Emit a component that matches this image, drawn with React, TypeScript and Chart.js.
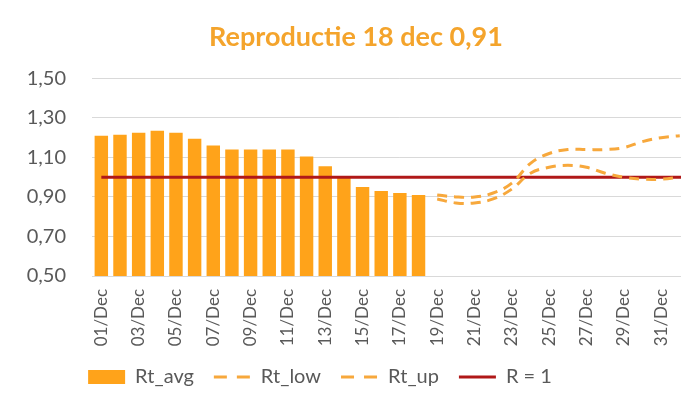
import { useEffect, useRef } from "react";
import { Chart, registerables } from "chart.js";

Chart.register(...registerables);

const categories = [
  "01/Dec", "02/Dec", "03/Dec", "04/Dec", "05/Dec", "06/Dec", "07/Dec", "08/Dec",
  "09/Dec", "10/Dec", "11/Dec", "12/Dec", "13/Dec", "14/Dec", "15/Dec", "16/Dec",
  "17/Dec", "18/Dec", "19/Dec", "20/Dec", "21/Dec", "22/Dec", "23/Dec", "24/Dec",
  "25/Dec", "26/Dec", "27/Dec", "28/Dec", "29/Dec", "30/Dec", "31/Dec", "01/Jan", "02/Jan",
];

// 01/Dec .. 18/Dec
const rtAvg = [1.21, 1.215, 1.225, 1.235, 1.225, 1.195, 1.16, 1.14, 1.14, 1.14, 1.14, 1.105, 1.055, 1.0, 0.95, 0.93, 0.92, 0.91];
// 19/Dec .. 01/Jan
const rtLow = [0.89, 0.87, 0.87, 0.89, 0.94, 1.02, 1.05, 1.06, 1.05, 1.02, 1.0, 0.99, 0.99, 1.0];
const rtUp = [0.91, 0.9, 0.9, 0.92, 0.97, 1.07, 1.12, 1.14, 1.14, 1.14, 1.15, 1.18, 1.2, 1.21];
const rOne = 1;
const yTicks = [0.5, 0.7, 0.9, 1.1, 1.3, 1.5];

const titleText = "Reproductie 18 dec 0,91";
const seriesNames = ["Rt_avg", "Rt_low", "Rt_up", "R = 1"];

const ORANGE = "#FFA31A";
const LINE_ORANGE = "#F7A83C";
const TITLE_ORANGE = "#F4A42C";
const RED = "#B01818";
const GREY = "#595959";
const FONT = "Lato, 'Open Sans', sans-serif";

const padTo = (arr: (number | null)[], start: number) => {
  const out: (number | null)[] = categories.map(() => null);
  arr.forEach((v, i) => {
    if (start + i < out.length) out[start + i] = v;
  });
  return out;
};

const LEGEND_SHIFT = -36;

export default function App() {
  const ref = useRef<HTMLCanvasElement | null>(null);

  useEffect(() => {
    if (!ref.current) return;
    const legendShift = {
      id: "legendShift",
      afterLayout(chart: any) {
        const l = chart.legend;
        if (l) {
          l.left += LEGEND_SHIFT;
          l.right += LEGEND_SHIFT;
        }
      },
    };
    const chart = new Chart(ref.current, {
      data: {
        labels: categories,
        datasets: [
          {
            type: "bar",
            label: seriesNames[0],
            data: padTo(rtAvg, 0),
            backgroundColor: ORANGE,
            borderWidth: 0,
            categoryPercentage: 1,
            barPercentage: 0.72,
            order: 10,
          },
          {
            type: "line",
            label: seriesNames[1],
            data: padTo(rtLow, 18),
            borderColor: LINE_ORANGE,
            borderWidth: 3,
            borderDash: [10, 7],
            tension: 0.4,
            pointRadius: 0,
            fill: false,
            order: 1,
          },
          {
            type: "line",
            label: seriesNames[2],
            data: padTo(rtUp, 18),
            borderColor: LINE_ORANGE,
            borderWidth: 3,
            borderDash: [10, 7],
            tension: 0.4,
            pointRadius: 0,
            fill: false,
            order: 2,
          },
          {
            type: "line",
            label: seriesNames[3],
            data: categories.map(() => rOne),
            borderColor: RED,
            borderWidth: 3,
            pointRadius: 0,
            fill: false,
            order: 3,
          },
        ],
      } as any,
      options: {
        animation: false,
        responsive: true,
        maintainAspectRatio: false,
        layout: { padding: { left: 0, right: 12, top: 0, bottom: 17 } },
        plugins: {
          title: {
            display: true,
            text: titleText,
            color: TITLE_ORANGE,
            font: { family: FONT, size: 27, weight: "bold" },
            padding: { top: 21, bottom: 25 },
          },
          legend: {
            position: "bottom",
            labels: {
              color: GREY,
              font: { family: FONT, size: 20 },
              usePointStyle: true,
              pointStyleWidth: 37,
              boxWidth: 37,
              boxHeight: 14,
              padding: 20,
              generateLabels: () => [
                { text: seriesNames[0], fillStyle: ORANGE, strokeStyle: ORANGE, lineWidth: 0, pointStyle: "rect", datasetIndex: 0, hidden: false, fontColor: GREY },
                { text: seriesNames[1], fillStyle: "rgba(0,0,0,0)", strokeStyle: LINE_ORANGE, lineWidth: 3, lineDash: [13, 10], pointStyle: "line", datasetIndex: 1, hidden: false, fontColor: GREY },
                { text: seriesNames[2], fillStyle: "rgba(0,0,0,0)", strokeStyle: LINE_ORANGE, lineWidth: 3, lineDash: [13, 10], pointStyle: "line", datasetIndex: 2, hidden: false, fontColor: GREY },
                { text: seriesNames[3], fillStyle: "rgba(0,0,0,0)", strokeStyle: RED, lineWidth: 3, pointStyle: "line", datasetIndex: 3, hidden: false, fontColor: GREY },
              ] as any,
            },
          },
          tooltip: { enabled: false },
        },
        scales: {
          x: {
            grid: { display: false },
            border: { display: false },
            afterFit: (s: any) => {
              s.height = 71;
            },
            ticks: {
              autoSkip: false,
              minRotation: 90,
              maxRotation: 90,
              padding: 5,
              color: GREY,
              font: { family: FONT, size: 17 },
              callback: (_v: any, i: number) => (i % 2 === 0 ? categories[i] : ""),
            },
          },
          y: {
            min: 0.5,
            max: 1.5,
            afterBuildTicks: (s: any) => {
              s.ticks = yTicks.map((v) => ({ value: v }));
            },
            afterFit: (s: any) => {
              s.width = 92;
            },
            grid: { color: "#D9D9D9", lineWidth: 1, drawTicks: false },
            border: { display: false },
            ticks: {
              padding: 26,
              color: GREY,
              font: { family: FONT, size: 20 },
              callback: (v: any) => Number(v).toFixed(2).replace(".", ","),
            },
          },
        },
      },
      plugins: [legendShift],
    });
    return () => chart.destroy();
  }, []);

  return (
    <div style={{ position: "fixed", left: 0, top: 0, width: 724, height: 414, background: "#fff" }}>
      <canvas ref={ref} />
    </div>
  );
}
